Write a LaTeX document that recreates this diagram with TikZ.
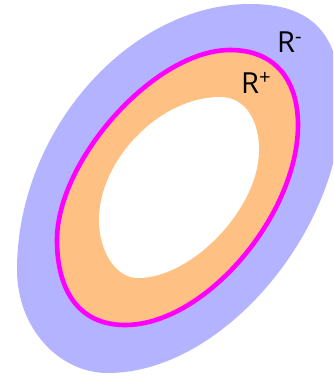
\documentclass[tikz,border=0pt]{standalone}
\usepackage{fontspec}
\setmainfont{Open Sans}
\definecolor{lavender}{HTML}{B3B3FF}
\definecolor{peach}{HTML}{FFC183}
\definecolor{rim}{HTML}{FF00FF}

\begin{document}
\begin{tikzpicture}[x=1pt,y=-1pt,
  tag/.style={font=\fontsize{29}{30}\selectfont,inner sep=0pt}]
  \useasboundingbox (0,0) rectangle (333,379);
  \clip (0,0) rectangle (333,379);
  % outer region R^-
  \fill[lavender] (250,4) .. controls (318,4) and (341,40) .. (341,105)
    .. controls (341,230) and (223,373) .. (108,373)
    .. controls (58,373) and (17,327) .. (17,270)
    .. controls (17,130) and (130,4) .. cycle;
  % region R^+ with its rim
  \filldraw[fill=peach,draw=rim,line width=4.6pt] (230,50) .. controls (275,50) and (298,80) .. (298,125)
    .. controls (298,215) and (205,325) .. (125,325)
    .. controls (80,325) and (57,292) .. (57,240)
    .. controls (57,160) and (155,50) .. cycle;
  % hole
  \fill[white] (220,97) .. controls (245,97) and (259,120) .. (259,150)
    .. controls (259,208) and (192,278) .. (138,278)
    .. controls (115,278) and (99,250) .. (99,220)
    .. controls (99,160) and (160,97) .. cycle;
  \node[tag,anchor=base west] (rminus) at (277,53) {R\textsuperscript{-}};
  \node[tag,anchor=base west] (rplus) at (241,94) {R\textsuperscript{+}};
\end{tikzpicture}
\end{document}
